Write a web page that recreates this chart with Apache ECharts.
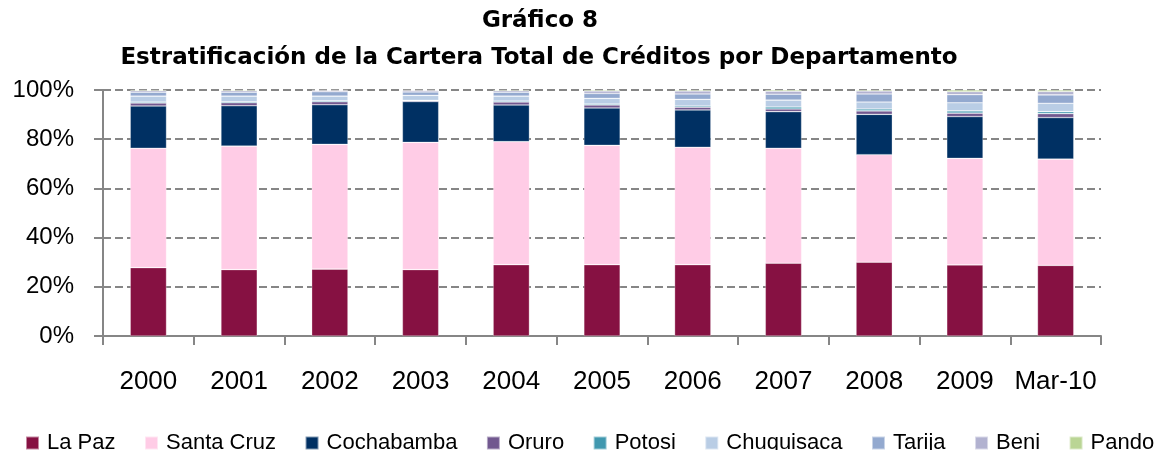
<!DOCTYPE html>
<html>
<head>
<meta charset="utf-8">
<script src="https://cdn.jsdelivr.net/npm/echarts@6/dist/echarts.min.js"></script>
<style>
  html, body { margin: 0; padding: 0; background: #fff; }
  #main { width: 1160px; height: 450px; }
</style>
</head>
<body>
<div id="main"></div>
<script>
// categorias (eje x)
var years = ['2000', '2001', '2002', '2003', '2004', '2005', '2006', '2007', '2008', '2009', 'Mar-10'];

// participacion por departamento, en %
var laPaz      = [27.8, 27.0, 27.2, 27.0, 29.0, 29.0, 29.0, 29.6, 30.0, 28.9, 28.7];
var santaCruz  = [48.5, 50.2, 50.7, 51.7, 50.0, 48.5, 47.7, 46.7, 43.7, 43.3, 43.2];
var cochabamba = [17.2, 16.4, 16.1, 16.6, 14.9, 15.2, 15.2, 14.9, 16.4, 17.0, 16.9];
var oruro      = [1.2, 1.2, 1.2, 0.3, 1.2, 1.2, 1.1, 1.1, 1.4, 1.4, 1.6];
var potosi     = [0.4, 0.4, 0.4, 0.2, 0.4, 0.4, 0.5, 0.8, 0.8, 0.9, 0.8];
var chuquisaca = [2.4, 2.3, 1.9, 2.0, 2.0, 2.3, 2.7, 2.8, 2.8, 3.3, 3.4];
var tarija     = [1.6, 1.6, 1.8, 1.4, 1.6, 2.0, 2.2, 2.4, 3.3, 3.3, 3.4];
var beni       = [0.6, 0.6, 0.5, 0.6, 0.6, 1.0, 1.2, 1.2, 1.2, 1.2, 1.4];
var pando      = [0.3, 0.3, 0.2, 0.2, 0.3, 0.4, 0.4, 0.5, 0.4, 0.7, 0.6];

var yTicks = [0, 20, 40, 60, 80, 100];

var names  = ['La Paz', 'Santa Cruz', 'Cochabamba', 'Oruro', 'Potosi', 'Chuquisaca', 'Tarija', 'Beni', 'Pando'];
var values = [laPaz, santaCruz, cochabamba, oruro, potosi, chuquisaca, tarija, beni, pando];
var colors = ['#861142', '#FFCCE6', '#003063', '#71588F', '#4198AF', '#B9CDE5', '#93A9CF', '#B2B2D0', '#BAD595'];

var chartDom = document.getElementById('main');
var myChart = echarts.init(chartDom);
var font = '"Liberation Sans", Arial, sans-serif';
var gray = '#868686';

var series = names.map(function (n, i) {
    return {
        name: n,
        type: 'bar',
        stack: 'total',
        barWidth: '40%',
        data: values[i],
        itemStyle: {
            color: colors[i],
            borderColor: 'rgba(255,255,255,0.5)',
            borderWidth: 0.6
        }
    };
});

var option = {
    animation: false,
    color: colors,
    title: [{
        text: 'Gráfico 8',
        left: 535,
        top: 5,
        textAlign: 'center',
        textStyle: { fontFamily: 'DejaVu Sans', fontWeight: 'bold', fontSize: 23, color: '#000' }
    }, {
        text: 'Estratificación de la Cartera Total de Créditos por Departamento',
        left: 534,
        top: 42,
        textAlign: 'center',
        textStyle: { fontFamily: 'DejaVu Sans', fontWeight: 'bold', fontSize: 23, color: '#000' }
    }],
    legend: {
        data: names,
        left: 20,
        top: 427,
        itemWidth: 13,
        itemHeight: 13,
        itemGap: 28.5,
        icon: 'rect',
        textStyle: { fontFamily: font, fontSize: 22, color: '#000', padding: [0, 0, 0, 3] }
    },
    grid: { left: 103, right: 59, top: 90, bottom: 114 },
    xAxis: {
        type: 'category',
        data: years,
        axisLine: { lineStyle: { color: gray, width: 2 } },
        axisTick: { show: true, interval: 0, length: 9, lineStyle: { color: gray, width: 2 } },
        axisLabel: { interval: 0, margin: 33, fontFamily: font, fontSize: 26, color: '#000' }
    },
    yAxis: {
        type: 'value',
        min: yTicks[0],
        max: yTicks[yTicks.length - 1],
        interval: 20,
        axisLine: { show: true, lineStyle: { color: gray, width: 2 } },
        axisTick: { show: true, length: 9, lineStyle: { color: gray, width: 2 } },
        axisLabel: { margin: 29, fontFamily: font, fontSize: 24, color: '#000', formatter: '{value}%' },
        splitLine: { lineStyle: { color: gray, width: 2, type: [8, 4] } }
    },
    series: series
};

option && myChart.setOption(option);
</script>
</body>
</html>
